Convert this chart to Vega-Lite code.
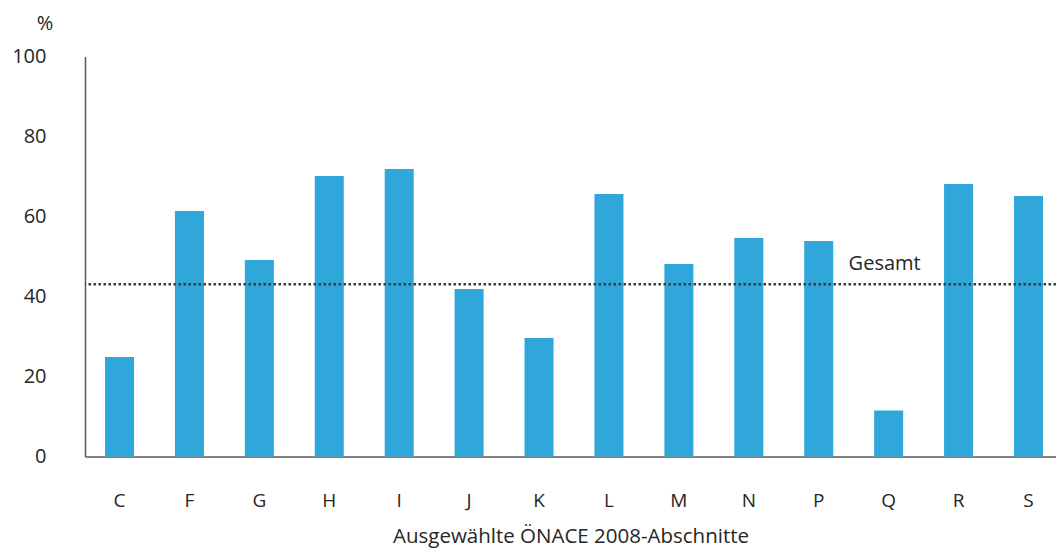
{
  "$schema": "https://vega.github.io/schema/vega-lite/v6.json",
  "autosize": {"type": "none"},
  "padding": {"left": 85, "top": 56.5, "right": 0, "bottom": 94.5},
  "width": 971,
  "height": 400,
  "background": "white",
  "config": {
    "view": {"stroke": null},
    "font": "Open Sans",
    "axis": {"labelFont": "Open Sans", "titleFont": "Open Sans"}
  },
  "datasets": {
    "bars": [
      {"abschnitt": "C", "wert": 24.9},
      {"abschnitt": "F", "wert": 61.4},
      {"abschnitt": "G", "wert": 49.1},
      {"abschnitt": "H", "wert": 70.1},
      {"abschnitt": "I", "wert": 71.9},
      {"abschnitt": "J", "wert": 41.9},
      {"abschnitt": "K", "wert": 29.6},
      {"abschnitt": "L", "wert": 65.6},
      {"abschnitt": "M", "wert": 48.1},
      {"abschnitt": "N", "wert": 54.6},
      {"abschnitt": "P", "wert": 53.9},
      {"abschnitt": "Q", "wert": 11.5},
      {"abschnitt": "R", "wert": 68.1},
      {"abschnitt": "S", "wert": 65.1}
    ],
    "gesamt": [{"label": "Gesamt", "wert": 43.05}]
  },
  "layer": [
    {
      "data": {"name": "bars"},
      "mark": {"type": "bar", "color": "#2fa7db"},
      "encoding": {
        "x": {
          "field": "abschnitt",
          "type": "nominal",
          "sort": null,
          "scale": {"paddingInner": 0.585, "paddingOuter": 0.236, "align": 0.606},
          "axis": {
            "title": "Ausgewählte ÖNACE 2008-Abschnitte",
            "labelAngle": 0,
            "ticks": false,
            "domainColor": "#595959",
            "domainWidth": 1.5,
            "labelFontSize": 19,
            "labelFontWeight": 400,
            "labelColor": "#262626",
            "labelBaseline": "middle",
            "labelPadding": 44,
            "titleFontSize": 20.5,
            "titleFontWeight": 400,
            "titleColor": "#262626",
            "titleBaseline": "middle",
            "titleY": 80
          }
        },
        "y": {
          "field": "wert",
          "type": "quantitative",
          "scale": {"domain": [0, 100], "nice": false},
          "axis": {
            "title": "%",
            "titleAngle": 0,
            "titleAlign": "center",
            "titleBaseline": "middle",
            "titleX": -40.5,
            "titleY": -33.5,
            "titleFontSize": 20,
            "titleFontWeight": 400,
            "titleColor": "#262626",
            "values": [0, 20, 40, 60, 80, 100],
            "grid": false,
            "ticks": false,
            "domainColor": "#595959",
            "domainWidth": 1.5,
            "labelFontSize": 20,
            "labelFontWeight": 400,
            "labelColor": "#262626",
            "labelPadding": 39
          }
        }
      }
    },
    {
      "data": {"name": "gesamt"},
      "mark": {"type": "rule", "color": "#3a3a3a", "strokeWidth": 2.5, "strokeDash": [2.5, 2.5]},
      "encoding": {
        "y": {"field": "wert", "type": "quantitative"}
      }
    },
    {
      "data": {"name": "gesamt"},
      "mark": {"type": "text", "fontSize": 20, "fontWeight": 400, "color": "#262626", "align": "center", "baseline": "middle", "dy": -20, "dx": -4},
      "encoding": {
        "x": {"datum": "Q"},
        "y": {"field": "wert", "type": "quantitative"},
        "text": {"field": "label"}
      }
    }
  ]
}
